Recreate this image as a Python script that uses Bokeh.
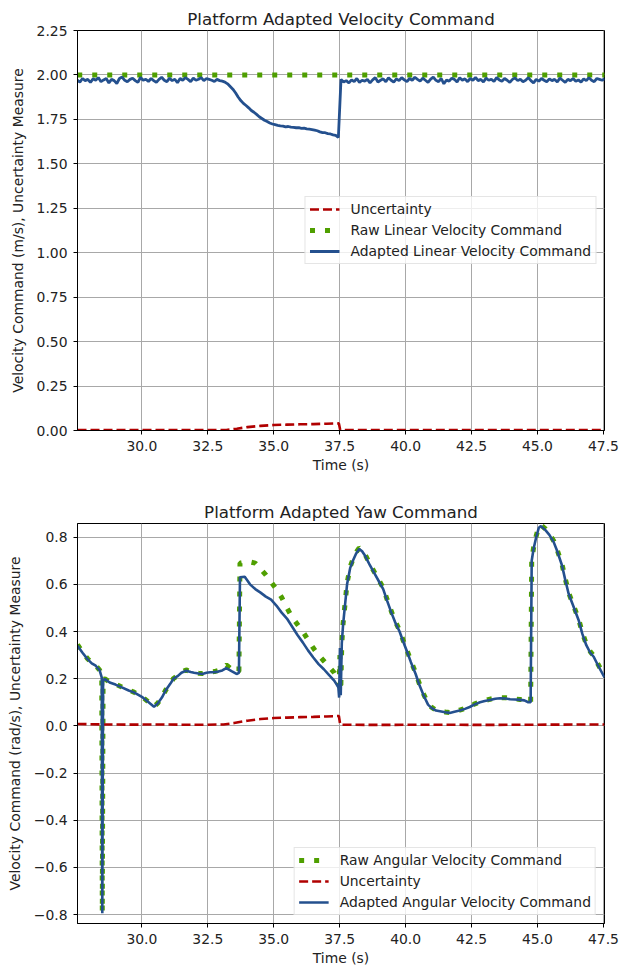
import numpy as np
from bokeh.plotting import figure
from bokeh.models import Range1d, FixedTicker, NumeralTickFormatter, CustomJSTickFormatter
from bokeh.layouts import column
from bokeh.embed import file_html
from bokeh.resources import INLINE

# ---------------- data: top (linear velocity) ----------------
x_ticks = [30.0, 32.5, 35.0, 37.5, 40.0, 42.5, 45.0, 47.5]
y_ticks_lin = [0.0, 0.25, 0.5, 0.75, 1.0, 1.25, 1.5, 1.75, 2.0, 2.25]
y_ticks_ang = [-0.8, -0.6, -0.4, -0.2, 0.0, 0.2, 0.4, 0.6, 0.8]

# adapted linear velocity, sampled every 0.1 s starting at 27.55 s
adapted_lin = [
    1.970, 1.960, 1.980, 1.968, 1.975, 1.958, 1.978, 1.970, 1.985, 1.962,
    1.972, 1.980, 1.955, 1.975, 1.968, 1.952, 1.980, 1.988, 1.970, 1.962,
    1.975, 1.982, 1.968, 1.958, 1.986, 1.970, 1.976, 1.963, 1.980, 1.968,
    1.958, 1.975, 1.987, 1.970, 1.962, 1.982, 1.968, 1.976, 1.956, 1.980,
    1.970, 1.985, 1.975, 1.962, 1.982, 1.970, 1.976, 1.985, 1.968, 1.980,
    1.975, 1.970, 1.963, 1.975, 1.968,
    1.965, 1.960, 1.950, 1.935, 1.920, 1.900, 1.876, 1.856, 1.840, 1.828,
    1.815, 1.800, 1.790, 1.778, 1.765, 1.755, 1.745, 1.738, 1.730, 1.724,
    1.720, 1.716, 1.713, 1.712, 1.708, 1.710, 1.706, 1.705, 1.703, 1.704,
    1.700, 1.701, 1.697, 1.695, 1.693, 1.690, 1.686, 1.680, 1.676, 1.675,
    1.670, 1.668, 1.663, 1.660, 1.648,
    1.975, 1.960, 1.968, 1.955, 1.972, 1.962, 1.980, 1.958, 1.970, 1.965,
    1.975, 1.955, 1.972, 1.985, 1.960, 1.970, 1.978, 1.962, 1.984, 1.970,
    1.960, 1.978, 1.968, 1.985, 1.972, 1.962, 1.980, 1.970, 1.987, 1.975,
    1.965, 1.982, 1.970, 1.958, 1.976, 1.988, 1.970, 1.962, 1.980, 1.950,
    1.972, 1.965, 1.982, 1.975, 1.960, 1.985, 1.970, 1.978, 1.962, 1.980,
    1.970, 1.986, 1.968, 1.975, 1.960, 1.982, 1.970, 1.976, 1.963, 1.985,
    1.972, 1.965, 1.980, 1.970, 1.958, 1.975, 1.983, 1.968, 1.976, 1.962,
    1.970, 1.985, 1.968, 1.955, 1.975, 1.965, 1.980, 1.970, 1.962, 1.978,
    1.968, 1.975, 1.960, 1.982, 1.970, 1.958, 1.975, 1.968, 1.980, 1.965,
    1.972, 1.960, 1.978, 1.968, 1.985, 1.970, 1.962, 1.980, 1.975, 1.970,
    1.978,
]
t_lin_start = 27.55
t_lin_step = 0.1
t_lin = [round(t_lin_start + t_lin_step * i, 3) for i in range(len(adapted_lin))]

t_raw_lin = [27.55, 47.55]
raw_lin = [2.0, 2.0]

t_unc_lin = [27.56, 30.0, 33.2, 33.6, 34.0, 34.5, 35.0, 35.5, 36.0, 36.5, 37.0, 37.47, 37.52, 42.0, 47.54]
unc_lin = [0.003, 0.003, 0.003, 0.010, 0.019, 0.026, 0.031, 0.033, 0.035, 0.036, 0.038, 0.040, 0.003, 0.003, 0.003]

# ---------------- data: bottom (angular velocity) ----------------
t_ang = [
    27.56, 27.75, 27.94, 28.10, 28.25, 28.40, 28.48, 28.50, 28.53, 28.60,
    28.78, 29.00, 29.24, 29.50, 29.70, 30.00, 30.20, 30.46, 30.60, 30.76,
    30.90, 31.07, 31.20, 31.37, 31.50, 31.68, 31.85, 31.98, 32.15, 32.29,
    32.45, 32.59, 32.75, 32.90, 33.05, 33.20, 33.40, 33.59, 33.68, 33.72,
    33.90, 34.10, 34.30, 34.50, 34.70, 34.90, 35.10, 35.30, 35.50, 35.70,
    35.90, 36.10, 36.30, 36.50, 36.70, 36.90, 37.10, 37.30, 37.45, 37.48,
    37.51, 37.54, 37.58, 37.63, 37.78, 37.90, 38.00, 38.12, 38.24, 38.35,
    38.47, 38.65, 38.85, 39.00, 39.15, 39.30, 39.46, 39.60, 39.77, 39.90,
    40.07, 40.20, 40.38, 40.50, 40.68, 40.85, 40.99, 41.15, 41.30, 41.50,
    41.67, 41.85, 42.05, 42.25, 42.43, 42.60, 42.82, 43.00, 43.20, 43.40,
    43.58, 43.80, 43.96, 44.15, 44.34, 44.50, 44.65, 44.74, 44.78, 44.85,
    44.95, 45.05, 45.13, 45.30, 45.45, 45.61, 45.75, 45.93, 46.05, 46.18,
    46.35, 46.56, 46.70, 46.85, 47.00, 47.13, 47.30, 47.54,
]
adapted_ang = [
    0.340, 0.310, 0.283, 0.265, 0.255, 0.235, 0.205, -0.795, 0.195, 0.198,
    0.184, 0.175, 0.163, 0.150, 0.142, 0.123, 0.105, 0.081, 0.095, 0.120,
    0.150, 0.177, 0.200, 0.212, 0.225, 0.234, 0.228, 0.225, 0.222, 0.220,
    0.225, 0.227, 0.228, 0.230, 0.235, 0.245, 0.232, 0.220, 0.225, 0.630,
    0.632, 0.600, 0.580, 0.565, 0.548, 0.535, 0.510, 0.480, 0.455, 0.420,
    0.385, 0.354, 0.320, 0.290, 0.262, 0.240, 0.215, 0.191, 0.163, 0.120,
    0.330, 0.130, 0.350, 0.430, 0.600, 0.670, 0.700, 0.730, 0.750, 0.740,
    0.720, 0.680, 0.640, 0.610, 0.580, 0.530, 0.480, 0.440, 0.400, 0.360,
    0.310, 0.270, 0.220, 0.180, 0.130, 0.090, 0.075, 0.065, 0.062, 0.058,
    0.055, 0.060, 0.065, 0.072, 0.080, 0.090, 0.100, 0.105, 0.110, 0.115,
    0.117, 0.116, 0.113, 0.112, 0.110, 0.108, 0.100, 0.100, 0.700, 0.750,
    0.800, 0.840, 0.847, 0.830, 0.810, 0.780, 0.740, 0.680, 0.620, 0.560,
    0.510, 0.448, 0.390, 0.342, 0.310, 0.293, 0.255, 0.205,
]
raw_ang = [
    0.345, 0.312, 0.285, 0.266, 0.256, 0.236, 0.206, -0.790, 0.196, 0.199,
    0.186, 0.177, 0.165, 0.152, 0.143, 0.124, 0.106, 0.082, 0.096, 0.121,
    0.151, 0.178, 0.201, 0.214, 0.228, 0.237, 0.230, 0.226, 0.223, 0.222,
    0.226, 0.229, 0.230, 0.235, 0.245, 0.258, 0.240, 0.228, 0.232, 0.690,
    0.694, 0.695, 0.690, 0.665, 0.640, 0.610, 0.580, 0.545, 0.500, 0.460,
    0.430, 0.400, 0.365, 0.330, 0.300, 0.275, 0.250, 0.225, 0.190, 0.170,
    0.300, 0.150, 0.350, 0.435, 0.605, 0.675, 0.705, 0.735, 0.755, 0.745,
    0.725, 0.685, 0.645, 0.615, 0.585, 0.535, 0.485, 0.445, 0.405, 0.365,
    0.315, 0.275, 0.225, 0.185, 0.135, 0.094, 0.078, 0.067, 0.063, 0.059,
    0.056, 0.061, 0.067, 0.074, 0.082, 0.092, 0.102, 0.107, 0.113, 0.118,
    0.120, 0.119, 0.116, 0.114, 0.112, 0.110, 0.103, 0.100, 0.700, 0.755,
    0.805, 0.845, 0.852, 0.835, 0.815, 0.785, 0.745, 0.685, 0.625, 0.565,
    0.515, 0.452, 0.395, 0.347, 0.315, 0.297, 0.260, 0.210,
]
t_unc_ang = [27.56, 28.5, 29.5, 30.5, 31.5, 32.5, 33.1, 33.5, 34.0, 34.5, 35.0, 35.5,
             36.0, 36.5, 37.0, 37.47, 37.52, 39.0, 41.0, 43.0, 45.0, 47.54]
unc_ang = [0.008, 0.006, 0.005, 0.006, 0.005, 0.005, 0.006, 0.012, 0.022, 0.029, 0.033, 0.035,
           0.037, 0.038, 0.040, 0.042, 0.005, 0.004, 0.005, 0.004, 0.005, 0.006]

# ---------------- style ----------------
FONT = "DejaVu Sans"
RED = "#b00000"
GREEN = "#4f9f00"
BLUE = "#24508e"
GRID = "#a8a8a8"
TXT = "#222222"
W = 633


def style(p, ylabel, yticks, yfmt):
    p.title.text_font = FONT
    p.title.text_font_size = "16.7px"
    p.title.text_font_style = "normal"
    p.title.text_color = TXT
    p.title.align = "center"
    p.title.standoff = 4
    p.outline_line_color = "black"
    p.outline_line_width = 1
    p.xaxis.ticker = FixedTicker(ticks=x_ticks)
    p.xaxis.formatter = NumeralTickFormatter(format="0.0")
    p.yaxis.ticker = FixedTicker(ticks=yticks)
    p.yaxis.formatter = yfmt
    for ax in (p.xaxis[0], p.yaxis[0]):
        ax.major_label_text_font = FONT
        ax.major_label_text_font_size = "13.9px"
        ax.major_label_text_color = TXT
        ax.axis_label_text_font = FONT
        ax.axis_label_text_font_size = "13.9px"
        ax.axis_label_text_font_style = "normal"
        ax.axis_label_text_color = TXT
        ax.major_tick_in = 0
        ax.major_tick_out = 4
        ax.minor_tick_in = 0
        ax.minor_tick_out = 0
        ax.axis_line_color = "black"
        ax.major_tick_line_color = "black"
        ax.major_label_standoff = 6
    p.xaxis.axis_label = "Time (s)"
    p.xaxis.axis_label_standoff = 3
    p.yaxis.axis_label = ylabel
    p.yaxis.axis_label_standoff = 8
    p.xgrid.ticker = FixedTicker(ticks=x_ticks)
    p.ygrid.ticker = FixedTicker(ticks=yticks)
    for g in (p.xgrid[0], p.ygrid[0]):
        g.grid_line_color = GRID
        g.grid_line_width = 1


def style_legend(p, loc):
    lg = p.legend[0]
    lg.location = loc
    lg.margin = 8
    lg.padding = 4
    lg.spacing = 5
    lg.glyph_width = 30
    lg.glyph_height = 16
    lg.label_height = 16
    lg.label_standoff = 11
    lg.label_text_font = FONT
    lg.label_text_font_size = "13.9px"
    lg.label_text_color = TXT
    lg.border_line_color = "#cccccc"
    lg.background_fill_alpha = 0.8


x_range = (27.56, 47.54)

# ---------------- top figure ----------------
p1 = figure(width=W, height=493, output_backend="svg", toolbar_location=None,
            title="Platform Adapted Velocity Command",
            x_range=Range1d(*x_range), y_range=Range1d(0.0, 2.25),
            min_border_left=77, min_border_right=29, min_border_top=30, min_border_bottom=63)
p1.line(t_unc_lin, unc_lin, line_color=RED, line_width=2.6, line_dash="9 4",
        legend_label="Uncertainty")
p1.line(t_raw_lin, raw_lin, line_color=GREEN, line_width=5, line_dash="5 10",
        legend_label="Raw Linear Velocity Command")
p1.line(t_lin, adapted_lin, line_color=BLUE, line_width=2.8,
        legend_label="Adapted Linear Velocity Command")
style(p1, "Velocity Command (m/s), Uncertainty Measure", y_ticks_lin,
      NumeralTickFormatter(format="0.00"))
style_legend(p1, "right")

# ---------------- bottom figure ----------------
p2 = figure(width=W, height=476, output_backend="svg", toolbar_location=None,
            title="Platform Adapted Yaw Command",
            x_range=Range1d(*x_range), y_range=Range1d(-0.838, 0.858),
            min_border_left=77, min_border_right=29, min_border_top=30, min_border_bottom=46)
p2.line(t_ang, raw_ang, line_color=GREEN, line_width=5, line_dash="5 10",
        legend_label="Raw Angular Velocity Command")
p2.line(t_unc_ang, unc_ang, line_color=RED, line_width=2.6, line_dash="9 4",
        legend_label="Uncertainty")
p2.line(t_ang, adapted_ang, line_color=BLUE, line_width=2.6,
        legend_label="Adapted Angular Velocity Command")
ang_fmt = CustomJSTickFormatter(code="""
    const s = Math.abs(tick).toFixed(1);
    return (tick < -1e-9 ? '\\u2212' : '') + s;
""")
style(p2, "Velocity Command (rad/s), Uncertainty Measure", y_ticks_ang, ang_fmt)
style_legend(p2, "bottom_right")

layout = column(p1, p2, spacing=0)
open("out.html", "w").write(file_html(layout, INLINE))
